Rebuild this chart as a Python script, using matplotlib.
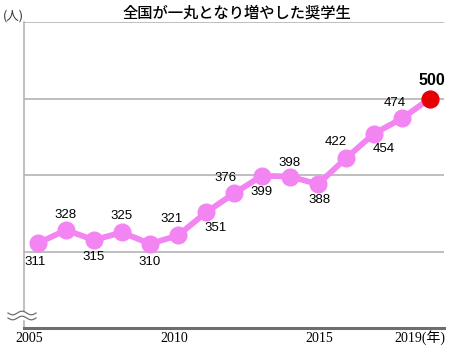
import matplotlib
matplotlib.use("Agg")
import matplotlib.pyplot as plt
import numpy as np

years = list(range(2005, 2020))
students = [311, 328, 315, 325, 310, 321, 351, 376, 399, 398, 388, 422, 454, 474, 500]
# label offsets in pixels (dx, dy) relative to each point
label_off = [(-3, -19), (0, 15), (0, -17), (0, 16), (0, -18), (-6, 16), (10, -16),
             (-8, 15), (0, -16), (0, 14), (2, -16), (-10, 16), (10, -15), (-7, 15)]
xticks = [2005, 2010, 2015]
xtick_shift = [-0.3, -0.15, 0.05]

LINE = "#F385F3"; RED = "#E60000"; GRID = "#B4B4B4"; AXIS = "#6E6E6E"
plt.rcParams["font.family"] = ["Liberation Sans", "Noto Sans CJK JP"]

fig = plt.figure(figsize=(4.5, 3.47), dpi=100)
ax = fig.add_axes([24/450, 19/347, 420/450, 306/347])
ax.set_xlim(2004.5, 2019.5)
ax.set_ylim(200, 600)
for s in ["top", "right"]:
    ax.spines[s].set_visible(False)
ax.spines["left"].set_color(GRID); ax.spines["left"].set_linewidth(1.2)
ax.spines["bottom"].set_color(AXIS); ax.spines["bottom"].set_linewidth(2.2)
ax.set_yticks([300, 400, 500, 600])
ax.yaxis.grid(True, color=GRID, lw=1.2)
ax.set_axisbelow(True)
ax.tick_params(left=False, labelleft=False, bottom=False, labelbottom=False)

xlab_y = -10 / 306
for yr, sh in zip(xticks, xtick_shift):
    ax.text(yr + sh, xlab_y, str(yr), transform=ax.get_xaxis_transform(), ha="center", va="center",
            fontsize=10, family="Liberation Serif", clip_on=False)
ax.text(2019.55, xlab_y, "2019(年)", transform=ax.get_xaxis_transform(), ha="right", va="center",
        fontsize=10, family=["Liberation Serif", "Noto Sans CJK JP"], clip_on=False)

ax.plot(years, students, color=LINE, lw=4.2, marker="o", ms=12, zorder=3)
ax.plot(years[-1], students[-1], color=RED, marker="o", ms=12, ls="none", zorder=4)

for (y, v), (dx, dy) in zip(zip(years[:-1], students[:-1]), label_off):
    ax.annotate(str(v), (y, v), xytext=(dx * 0.72, dy * 0.72), textcoords="offset points",
                ha="center", va="center", fontsize=9.5, color="black")
ax.annotate(str(students[-1]), (years[-1], students[-1]), xytext=(1, 13), textcoords="offset points",
            ha="center", va="center", fontsize=11.5, fontweight="bold", color="black")

# wavy axis break
xs = np.linspace(8, 36, 60)
for y0 in (313, 318):
    ys = y0 + 1.8 * np.sin((xs - 8) / 28 * 2 * np.pi * 1.5)
    fig.lines.append(plt.Line2D(xs / 450, 1 - ys / 347, transform=fig.transFigure, color=AXIS, lw=0.9))
fig.patches.append(plt.Rectangle((22 / 450, 1 - 319 / 347), 5 / 450, 7 / 347,
                                 transform=fig.transFigure, color="white", zorder=1))

fig.text(0.527, 1 - 13 / 347, "全国が一丸となり増やした奨学生", ha="center", va="center",
         fontsize=11, family="Noto Sans CJK JP", fontweight="medium")
fig.text(3 / 450, 1 - 16 / 347, "(人)", ha="left", va="center", fontsize=9,
         family="Noto Sans CJK JP", color="#333333")

fig.savefig("out.png", dpi=100, facecolor="white")
